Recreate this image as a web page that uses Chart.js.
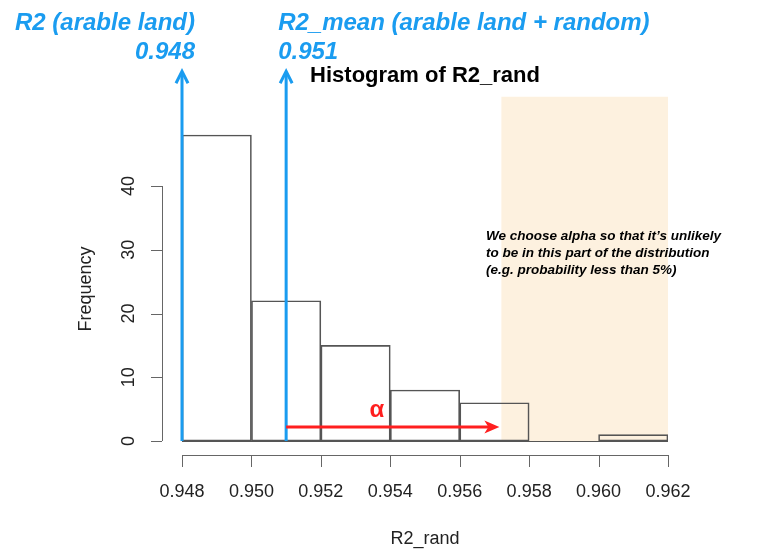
<!DOCTYPE html>
<html>
<head>
<meta charset="utf-8">
<script src="https://cdn.jsdelivr.net/npm/chart.js@4"></script>
<style>
  html, body { margin: 0; padding: 0; background: #fff; }
  #wrap { width: 779px; height: 552px; position: relative; }
</style>
</head>
<body>
<div id="wrap"><canvas id="histChart"></canvas></div>
<script>
// histogram of R2_rand
var binEdges = [0.948, 0.950, 0.952, 0.954, 0.956, 0.958, 0.960, 0.962];
var counts = [48, 22, 15, 8, 6, 0, 1];
var xTicks = [0.948, 0.950, 0.952, 0.954, 0.956, 0.958, 0.960, 0.962];
var yTicks = [0, 10, 20, 30, 40];

// annotation values
var r2Observed = 0.948;
var r2Mean = 0.951;
var alphaEdge = 0.9572;
var shadeTop = 54;
var arrowTop = 58;
var alphaArrowY = 2.2;

var BLUE = '#1a9cf0';
var RED = '#ff1f1f';
var AXIS = '#666';
var FONT = '"Liberation Sans", Arial, sans-serif';

var bars = counts.map(function (c, i) {
  return { x: (binEdges[i] + binEdges[i + 1]) / 2, y: c };
});

var shadePlugin = {
  id: 'shade',
  beforeDatasetsDraw: function (chart) {
    var ctx = chart.ctx, x = chart.scales.x, y = chart.scales.y;
    ctx.save();
    ctx.fillStyle = '#fdf1df';
    var x0 = x.getPixelForValue(alphaEdge), x1 = x.getPixelForValue(binEdges[binEdges.length - 1]);
    var y0 = y.getPixelForValue(shadeTop), y1 = y.getPixelForValue(0);
    ctx.fillRect(x0, y0, x1 - x0, y1 - y0);
    ctx.restore();
  }
};

function blueArrow(ctx, px, yBottom, yTip) {
  ctx.strokeStyle = BLUE;
  ctx.lineWidth = 3;
  ctx.beginPath();
  ctx.moveTo(px, yBottom);
  ctx.lineTo(px, yTip + 1);
  ctx.stroke();
  ctx.beginPath();
  ctx.moveTo(px - 6, yTip + 12);
  ctx.lineTo(px, yTip);
  ctx.lineTo(px + 6, yTip + 12);
  ctx.stroke();
}

var axesPlugin = {
  id: 'rAxes',
  afterDatasetsDraw: function (chart) {
    var ctx = chart.ctx, x = chart.scales.x, y = chart.scales.y;
    var area = chart.chartArea;
    ctx.save();

    // baseline under the bars (R draws empty bins as a line)
    ctx.strokeStyle = '#555';
    ctx.lineWidth = 1;
    ctx.beginPath();
    ctx.moveTo(x.getPixelForValue(binEdges[0]), y.getPixelForValue(0) + 0.5);
    ctx.lineTo(x.getPixelForValue(binEdges[binEdges.length - 1]), y.getPixelForValue(0) + 0.5);
    ctx.stroke();

    // x axis, detached below plot
    var axY = 455;
    ctx.strokeStyle = AXIS;
    ctx.beginPath();
    ctx.moveTo(x.getPixelForValue(xTicks[0]), axY + 0.5);
    ctx.lineTo(x.getPixelForValue(xTicks[xTicks.length - 1]), axY + 0.5);
    xTicks.forEach(function (t) {
      var px = Math.round(x.getPixelForValue(t)) + 0.5;
      ctx.moveTo(px, axY);
      ctx.lineTo(px, axY + 12);
    });
    ctx.stroke();
    ctx.fillStyle = '#222';
    ctx.font = '18px ' + FONT;
    ctx.textAlign = 'center';
    ctx.textBaseline = 'middle';
    xTicks.forEach(function (t) {
      ctx.fillText(t.toFixed(3), x.getPixelForValue(t), 492);
    });
    ctx.fillText('R2_rand', (area.left + area.right) / 2, 539);

    // y axis, detached left of plot
    var axX = 162;
    ctx.beginPath();
    ctx.moveTo(axX + 0.5, y.getPixelForValue(yTicks[0]));
    ctx.lineTo(axX + 0.5, y.getPixelForValue(yTicks[yTicks.length - 1]));
    yTicks.forEach(function (t) {
      var py = Math.round(y.getPixelForValue(t)) + 0.5;
      ctx.moveTo(axX, py);
      ctx.lineTo(axX - 11, py);
    });
    ctx.stroke();
    yTicks.forEach(function (t) {
      ctx.save();
      ctx.translate(129, y.getPixelForValue(t));
      ctx.rotate(-Math.PI / 2);
      ctx.fillText(String(t), 0, 0);
      ctx.restore();
    });
    ctx.save();
    ctx.translate(86, 289);
    ctx.rotate(-Math.PI / 2);
    ctx.fillText('Frequency', 0, 0);
    ctx.restore();

    // title
    ctx.fillStyle = '#000';
    ctx.font = 'bold 22px ' + FONT;
    ctx.fillText('Histogram of R2_rand', (area.left + area.right) / 2, 76);

    // blue arrows + labels
    var base = y.getPixelForValue(0);
    var tip = y.getPixelForValue(arrowTop);
    var pObs = x.getPixelForValue(r2Observed);
    var pMean = x.getPixelForValue(r2Mean);
    blueArrow(ctx, pObs, base, tip);
    blueArrow(ctx, pMean, base, tip);

    ctx.fillStyle = BLUE;
    ctx.font = 'italic bold 24px ' + FONT;
    ctx.textAlign = 'right';
    ctx.fillText('R2 (arable land)', pObs + 13, 23);
    ctx.fillText(r2Observed.toFixed(3), pObs + 13, 52);
    ctx.textAlign = 'left';
    ctx.fillText('R2_mean (arable land + random)', pMean - 8, 23);
    ctx.fillText(r2Mean.toFixed(3), pMean - 8, 52);

    // red alpha arrow
    var ry = y.getPixelForValue(alphaArrowY);
    var rEnd = x.getPixelForValue(alphaEdge) - 2;
    ctx.strokeStyle = RED;
    ctx.fillStyle = RED;
    ctx.lineWidth = 3;
    ctx.beginPath();
    ctx.moveTo(pMean, ry);
    ctx.lineTo(rEnd - 10, ry);
    ctx.stroke();
    ctx.beginPath();
    ctx.moveTo(rEnd, ry);
    ctx.lineTo(rEnd - 15, ry - 6.5);
    ctx.lineTo(rEnd - 11, ry);
    ctx.lineTo(rEnd - 15, ry + 6.5);
    ctx.closePath();
    ctx.fill();
    ctx.font = 'bold 24px ' + FONT;
    ctx.textAlign = 'center';
    ctx.fillText('\u03b1', 377, 410);

    // note inside shaded region
    ctx.fillStyle = '#000';
    ctx.font = 'italic bold 13.5px ' + FONT;
    ctx.textAlign = 'left';
    ctx.fillText('We choose alpha so that it\u2019s unlikely', 486, 236);
    ctx.fillText('to be in this part of the distribution', 486, 253);
    ctx.fillText('(e.g. probability less than 5%)', 486, 270);

    ctx.restore();
  }
};

var ctxH = document.getElementById('histChart').getContext('2d');
var histChart = new Chart(ctxH, {
  type: 'bar',
  plugins: [shadePlugin, axesPlugin],
  data: {
    datasets: [{
      label: 'R2_rand',
      data: bars,
      backgroundColor: 'rgba(0,0,0,0)',
      borderColor: '#555',
      borderWidth: 1,
      borderSkipped: false,
      barPercentage: 1,
      categoryPercentage: 1
    }]
  },
  options: {
    responsive: true,
    maintainAspectRatio: false,
    animation: false,
    layout: { padding: { left: 182, right: 111, top: 84, bottom: 111 } },
    plugins: { legend: { display: false }, tooltip: { enabled: false }, title: { display: false } },
    scales: {
      x: {
        type: 'linear',
        display: false,
        offset: false,
        min: binEdges[0],
        max: binEdges[binEdges.length - 1],
        ticks: { stepSize: 0.002 }
      },
      y: {
        display: false,
        min: 0,
        max: 56
      }
    }
  }
});
</script>
</body>
</html>
